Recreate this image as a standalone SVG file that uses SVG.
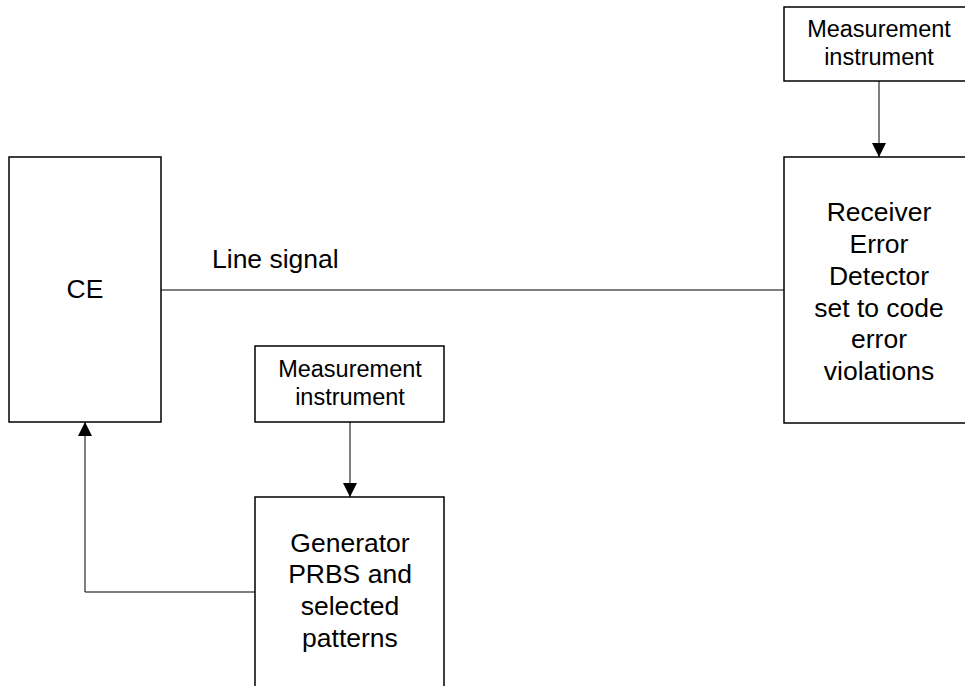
<svg xmlns="http://www.w3.org/2000/svg" width="965" height="686" viewBox="0 0 965 686">
<defs>
<style>
.box{fill:#fff;stroke:#000;stroke-width:1.5}
.t{font-family:"Liberation Sans",Arial,sans-serif;font-size:26.5px;fill:#000;text-anchor:middle}
.s{font-family:"Liberation Sans",Arial,sans-serif;font-size:23.5px;fill:#000;text-anchor:middle}
.c{fill:none;stroke:#000;stroke-width:1}
</style>
<marker id="arr" viewBox="0 0 14 14" refX="14" refY="7" markerWidth="14" markerHeight="14" markerUnits="userSpaceOnUse" orient="auto">
<path d="M0,0 L14,7 L0,14 Z" fill="#000"/>
</marker>
</defs>
<rect width="965" height="686" fill="#fff"/>
<g id="connectors">
<line class="c" x1="161" y1="290" x2="784" y2="290"/>
<line class="c" x1="879" y1="81" x2="879" y2="157" marker-end="url(#arr)"/>
<line class="c" x1="350" y1="422" x2="350" y2="497" marker-end="url(#arr)"/>
<polyline class="c" points="255,592 85,592 85,422" marker-end="url(#arr)"/>
<text class="t" x="212" y="268" style="text-anchor:start">Line signal</text>
</g>
<g id="ce">
<rect class="box" x="9" y="157" width="152" height="265"/>
<text class="t" x="85" y="298">CE</text>
</g>
<g id="meas-top">
<rect class="box" x="784" y="7" width="190" height="74"/>
<text class="s" x="879" y="37">Measurement</text>
<text class="s" x="879" y="65">instrument</text>
</g>
<g id="receiver">
<rect class="box" x="784" y="157" width="190" height="266"/>
<text class="t" x="879" y="221">Receiver</text>
<text class="t" x="879" y="253">Error</text>
<text class="t" x="879" y="285">Detector</text>
<text class="t" x="879" y="317">set to code</text>
<text class="t" x="879" y="348">error</text>
<text class="t" x="879" y="380">violations</text>
</g>
<g id="meas-bottom">
<rect class="box" x="255" y="346" width="189" height="76"/>
<text class="s" x="350" y="377">Measurement</text>
<text class="s" x="350" y="405">instrument</text>
</g>
<g id="generator">
<rect class="box" x="255" y="497" width="189" height="200"/>
<text class="t" x="350" y="552">Generator</text>
<text class="t" x="350" y="583">PRBS and</text>
<text class="t" x="350" y="615">selected</text>
<text class="t" x="350" y="647">patterns</text>
</g>
</svg>
